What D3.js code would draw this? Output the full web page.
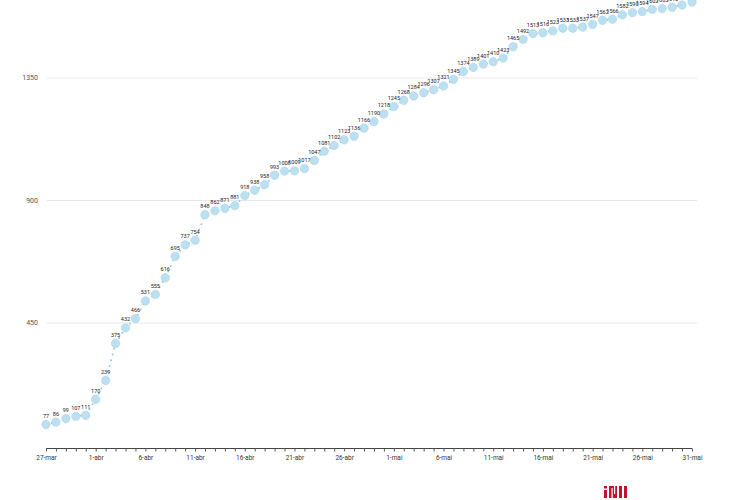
<!DOCTYPE html>
<html>
<head>
<meta charset="utf-8">
<script src="https://cdn.jsdelivr.net/npm/d3@7"></script>
<style>
  html, body { margin: 0; padding: 0; background: #fff; }
  svg { display: block; font-family: Roboto, "Liberation Sans", sans-serif; }
</style>
</head>
<body>
<svg id="chart" width="730" height="500"></svg>
<script>
const startDate = "2020-03-27";
const endDate = "2020-05-31";
const values = [77, 86, 99, 107, 111, 170, 239, 375, 432, 466,
  531, 555, 616, 695, 737, 754, 848, 862, 871, 881,
  918, 938, 958, 993, 1008, 1009, 1017, 1047, 1081, 1102,
  1123, 1136, 1166, 1190, 1218, 1245, 1268, 1284, 1296, 1307,
  1321, 1345, 1374, 1389, 1401, 1410, 1423, 1465, 1492, 1513,
  1516, 1523, 1533, 1533, 1537, 1547, 1562, 1566, 1582, 1590,
  1594, 1602, 1605, 1610, 1618, 1629];
const yTicks = [450, 900, 1350];
const monthNames = ["jan", "fev", "mar", "abr", "mai", "jun", "jul", "ago", "set", "out", "nov", "dez"];

const parse = d3.timeParse("%Y-%m-%d");
const t0 = parse(startDate), t1 = parse(endDate);
const data = values.map((v, i) => ({ date: d3.timeDay.offset(t0, i), value: v }));

const svg = d3.select("#chart");
const x = d3.scaleTime().domain([t0, t1]).range([46, 692]);
const y = d3.scaleLinear().domain([0, 1350]).range([445.5, 78]);

// gridlines
svg.append("g").selectAll("line").data(yTicks).join("line")
  .attr("x1", 47).attr("x2", 697)
  .attr("y1", d => y(d)).attr("y2", d => y(d))
  .attr("stroke", "#e8e8e8").attr("stroke-width", 1);
svg.append("g").selectAll("text").data(yTicks).join("text")
  .attr("x", 38).attr("y", d => y(d)).attr("dy", "0.35em")
  .attr("text-anchor", "end").attr("font-size", 7).attr("fill", "#555")
  .text(d => d);

// x axis
const fmt = d => d.getDate() + "-" + monthNames[d.getMonth()];
const xAxis = d3.axisBottom(x)
  .ticks(d3.timeDay.every(1))
  .tickSize(3)
  .tickFormat(d => (d3.timeDay.count(t0, d) % 5 === 0) ? fmt(d) : "");
const gx = svg.append("g").attr("transform", "translate(0,448.5)").call(xAxis);
gx.select(".domain").attr("stroke", "#444").attr("d", "M46,0H692");
gx.selectAll(".tick line").attr("stroke", "#555");
gx.selectAll(".tick text").attr("font-size", 6.5).attr("fill", "#333").attr("dy", "0.9em")
  .attr("font-family", "Roboto, sans-serif");

// dotted connecting line
const line = d3.line().x(d => x(d.date)).y(d => y(d.value));
svg.append("path").datum(data)
  .attr("d", line).attr("fill", "none")
  .attr("stroke", "#8fc9e4").attr("stroke-width", 2)
  .attr("stroke-linecap", "round").attr("stroke-dasharray", "0,6");

// circles
svg.append("g").selectAll("circle").data(data).join("circle")
  .attr("cx", d => x(d.date)).attr("cy", d => y(d.value)).attr("r", 4.2)
  .attr("fill", "#bde0f0").attr("stroke", "#a6d3e9").attr("stroke-width", 0.6);

// labels
svg.append("g").selectAll("text").data(data).join("text")
  .attr("x", d => x(d.date)).attr("y", d => y(d.value) - 6.5)
  .attr("text-anchor", "middle").attr("font-size", 5.5).attr("fill", "#222")
  .text(d => d.value);

// logo
const logo = svg.append("g").attr("transform", "translate(604,486)");
logo.append("rect").attr("x", 0).attr("y", 0).attr("width", 3).attr("height", 2.5).attr("fill", "#c8102e");
logo.append("rect").attr("x", 0).attr("y", 4).attr("width", 3).attr("height", 8).attr("fill", "#c8102e");
logo.append("rect").attr("x", 5).attr("y", 0).attr("width", 8).attr("height", 12).attr("fill", "#c8102e");
logo.append("rect").attr("x", 7.5).attr("y", 2).attr("width", 1.2).attr("height", 10).attr("fill", "#fff");
logo.append("rect").attr("x", 10).attr("y", 0).attr("width", 1.2).attr("height", 8).attr("fill", "#fff");
logo.append("rect").attr("x", 15).attr("y", 0).attr("width", 3).attr("height", 12).attr("fill", "#c8102e");
logo.append("rect").attr("x", 20).attr("y", 0).attr("width", 3).attr("height", 12).attr("fill", "#c8102e");
</script>
</body>
</html>
